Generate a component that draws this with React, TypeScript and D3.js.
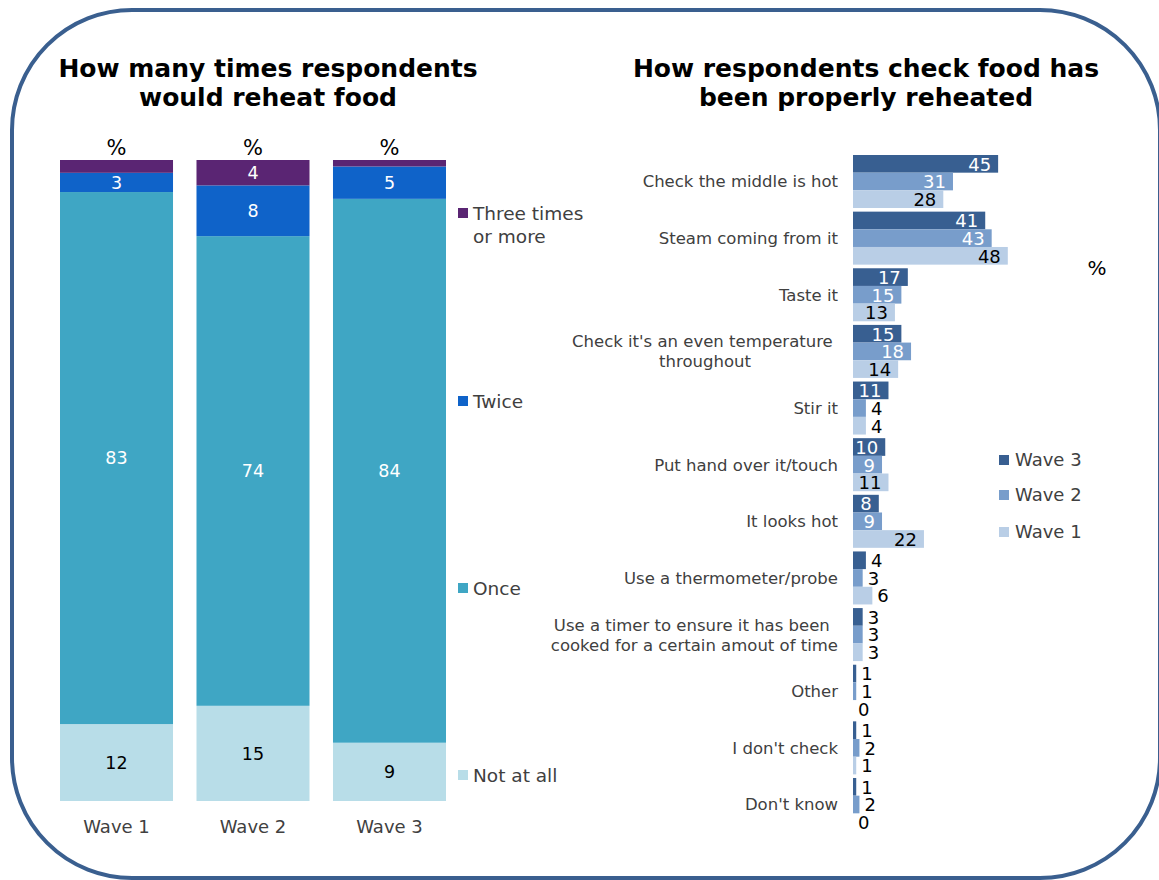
import React from "react";
import * as d3 from "d3";

// ---------- Left chart data ----------
const waves = ["Wave 1", "Wave 2", "Wave 3"];
const notAtAll = [12, 15, 9];
const once = [83, 74, 84];
const twice = [3, 8, 5];
const threePlus = [2, 4, 1];
const reheatSeries = ["Not at all", "Once", "Twice", "Three times or more"];
const reheatLegendLines = [["Not at all"], ["Once"], ["Twice"], ["Three times", "or more"]];

// ---------- Right chart data ----------
const methods = [
  "Check the middle is hot",
  "Steam coming from it",
  "Taste it",
  "Check it's an even temperature \nthroughout",
  "Stir it",
  "Put hand over it/touch",
  "It looks hot",
  "Use a thermometer/probe",
  "Use a timer to ensure it has been \ncooked for a certain amout of time",
  "Other",
  "I don't check",
  "Don't know",
];
const wave3 = [45, 41, 17, 15, 11, 10, 8, 4, 3, 1, 1, 1];
const wave2 = [31, 43, 15, 18, 4, 9, 9, 3, 3, 1, 2, 2];
const wave1 = [28, 48, 13, 14, 4, 11, 22, 6, 3, 0, 1, 0];
const checkSeries = ["Wave 3", "Wave 2", "Wave 1"];

const FONT = "DejaVu Sans, Verdana, sans-serif";
const reheatColors = ["#B8DDE8", "#3FA6C4", "#0F63C9", "#5A2573"];
const reheatLabelColors = ["#000", "#fff", "#fff", "#fff"];
const checkColors = ["#385F91", "#789DCB", "#B9CEE6"];
const checkLabelColors = ["#fff", "#fff", "#000"];

let measureCtx: CanvasRenderingContext2D | null = null;
function measure(text: string, font: string): number {
  if (!measureCtx && typeof document !== "undefined") {
    measureCtx = document.createElement("canvas").getContext("2d");
  }
  if (!measureCtx) return text.length * 9;
  measureCtx.font = font;
  return measureCtx.measureText(text).width;
}

export default function App() {
  const W = 1159;
  const H = 880;

  // Left chart
  const xBand = d3.scaleBand<string>().domain(waves).range([60, 446]).paddingInner(0.172);
  const yLeft = d3.scaleLinear().domain([0, 1]).range([801, 160]);
  const table = waves.map((w, i) => ({
    wave: w,
    "Not at all": notAtAll[i],
    Once: once[i],
    Twice: twice[i],
    "Three times or more": threePlus[i],
  }));
  const stacked = d3
    .stack<any>()
    .keys(reheatSeries)
    .offset(d3.stackOffsetExpand)(table);
  const rawVals = [notAtAll, once, twice, threePlus];

  // Right chart
  const yGroup = d3.scaleBand<string>().domain(methods).range([155, 831]).paddingInner(0.064);
  const ySub = d3.scaleBand<string>().domain(checkSeries).range([0, yGroup.bandwidth()]);
  const xRight = d3.scaleLinear().domain([0, 50]).range([853, 853 + 161.25]);
  const checkVals = [wave3, wave2, wave1];

  const labelFont = `16.5px ${FONT}`;

  const legendLeftY = [775, 588, 401, 213];
  const legendRightY = [460, 495, 532];

  return (
    <div style={{ position: "absolute", left: 0, top: 0 }}>
      <svg width={W} height={H} viewBox={`0 0 ${W} ${H}`} style={{ display: "block", background: "#fff" }}>
        <rect x={12} y={10} width={1148} height={868} rx={120} ry={120} fill="none" stroke="#3A5F8F" strokeWidth={4} />

        {/* Titles */}
        <g fontFamily={FONT} fontWeight="bold" fontSize={25} fill="#000" textAnchor="middle">
          <text x={268} y={77}>How many times respondents</text>
          <text x={268} y={106}>would reheat food</text>
          <text x={866} y={77}>How respondents check food has</text>
          <text x={866} y={106}>been properly reheated</text>
        </g>

        {/* Left stacked bars */}
        <g>
          {stacked.map((s, si) => (
            <g key={s.key}>
              {s.map((d: any, i: number) => {
                const x = xBand(waves[i])!;
                const y0 = yLeft(d[0]);
                const y1 = yLeft(d[1]);
                const v = rawVals[si][i];
                return (
                  <g key={i}>
                    <rect x={x} y={y1} width={xBand.bandwidth()} height={y0 - y1} fill={reheatColors[si]} />
                    {v >= 3 && (
                      <text
                        x={x + xBand.bandwidth() / 2}
                        y={(y0 + y1) / 2}
                        dy="0.36em"
                        textAnchor="middle"
                        fontFamily={FONT}
                        fontSize={17.5}
                        fill={reheatLabelColors[si]}
                      >
                        {v}
                      </text>
                    )}
                  </g>
                );
              })}
            </g>
          ))}
          {waves.map((w) => (
            <g key={w}>
              <text x={xBand(w)! + xBand.bandwidth() / 2} y={155} textAnchor="middle" fontFamily={FONT} fontSize={21} fill="#000">
                %
              </text>
              <text x={xBand(w)! + xBand.bandwidth() / 2} y={827} dy="0.36em" textAnchor="middle" fontFamily={FONT} fontSize={18} fill="#404040">
                {w}
              </text>
            </g>
          ))}
          {reheatSeries.map((s, si) => (
            <g key={s}>
              <rect x={458} y={legendLeftY[si] - 5} width={10} height={10} fill={reheatColors[si]} />
              {reheatLegendLines[si].map((line, li) => (
                <text key={li} x={473} y={legendLeftY[si] + li * 23} dy="0.36em" fontFamily={FONT} fontSize={18.5} fill="#404040">
                  {line}
                </text>
              ))}
            </g>
          ))}
        </g>

        {/* Right grouped bars */}
        <g>
          {methods.map((m, mi) => {
            const gy = yGroup(m)!;
            const lines = m.split("\n");
            const cy = gy + yGroup.bandwidth() / 2;
            let labelEls: React.ReactNode;
            if (lines.length === 1) {
              labelEls = (
                <text x={838} y={cy} dy="0.36em" textAnchor="end" fontFamily={FONT} fontSize={16.5} fill="#404040">
                  {m}
                </text>
              );
            } else {
              const maxW = Math.max(...lines.map((l) => measure(l, labelFont)));
              const cx = 838 - maxW / 2;
              labelEls = lines.map((l, li) => (
                <text
                  key={li}
                  x={cx}
                  y={cy + (li - (lines.length - 1) / 2) * 20}
                  dy="0.36em"
                  textAnchor="middle"
                  fontFamily={FONT}
                  fontSize={16.5}
                  fill="#404040"
                  style={{ whiteSpace: "pre" }}
                >
                  {l}
                </text>
              ));
            }
            return (
              <g key={m}>
                {labelEls}
                {checkSeries.map((s, si) => {
                  const v = checkVals[si][mi];
                  const y = gy + ySub(s)!;
                  const x1 = xRight(v);
                  const inside = v >= 8;
                  return (
                    <g key={s}>
                      <rect x={xRight(0)} y={y} width={x1 - xRight(0)} height={ySub.bandwidth()} fill={checkColors[si]} />
                      <text
                        x={inside ? x1 - 7 : x1 + 5}
                        y={y + ySub.bandwidth() / 2}
                        dy="0.38em"
                        textAnchor={inside ? "end" : "start"}
                        fontFamily={FONT}
                        fontSize={18}
                        fill={inside ? checkLabelColors[si] : "#000"}
                      >
                        {v}
                      </text>
                    </g>
                  );
                })}
              </g>
            );
          })}
          <text x={1097} y={268} dy="0.36em" textAnchor="middle" fontFamily={FONT} fontSize={20} fill="#000">
            %
          </text>
          {checkSeries.map((s, si) => (
            <g key={s}>
              <rect x={999} y={legendRightY[si] - 5} width={10} height={10} fill={checkColors[si]} />
              <text x={1015} y={legendRightY[si]} dy="0.36em" fontFamily={FONT} fontSize={18} fill="#404040">
                {s}
              </text>
            </g>
          ))}
        </g>
      </svg>
    </div>
  );
}
